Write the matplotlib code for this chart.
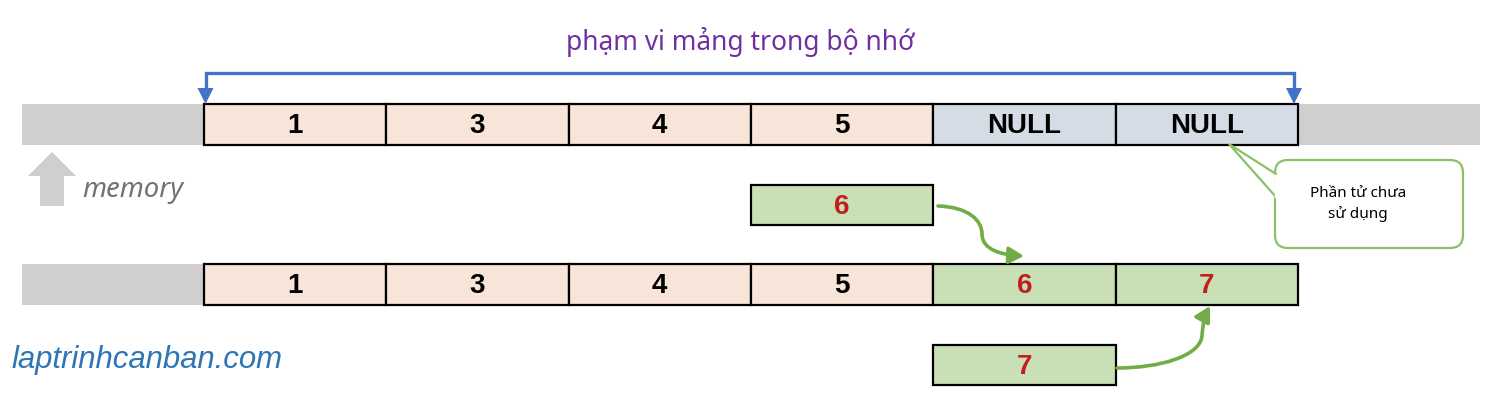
import matplotlib
matplotlib.use("Agg")
import matplotlib.pyplot as plt
from matplotlib.patches import Rectangle, Polygon, FancyBboxPatch, FancyArrowPatch
from matplotlib.path import Path

# ---- data ----
top_values = ["1", "3", "4", "5", "NULL", "NULL"]
top_kinds = ["used", "used", "used", "used", "null", "null"]
bottom_values = ["1", "3", "4", "5", "6", "7"]
bottom_kinds = ["used", "used", "used", "used", "new", "new"]
new_items = ["6", "7"]
title_text = "phạm vi mảng trong bộ nhớ"
callout_text = "Phần tử chưa\nsử dụng"
memory_label = "memory"
watermark = "laptrinhcanban.com"

# ---- style ----
fill = {"used": "#F8E4D8", "null": "#D6DCE5", "new": "#C9E0B6"}
txtcol = {"used": "#000000", "null": "#000000", "new": "#C0201B"}
GRAY = "#D0CECE"
BLUE = "#4472C4"
GREEN = "#70AD47"

fig = plt.figure(figsize=(14.86, 4.12), dpi=100)
ax = fig.add_axes([0, 0, 1, 1])
ax.set_xlim(0, 1486)
ax.set_ylim(412, 0)
ax.axis("off")

x0, cw, ch = 204, 182.3, 41
top_y, bot_y = 104, 264
num_font = dict(family="Liberation Sans", weight="bold", fontsize=20)

def draw_row(y, values, kinds):
    ax.add_patch(Rectangle((22, y), x0 - 22, ch, facecolor=GRAY, edgecolor="none", zorder=1))
    for i, (v, k) in enumerate(zip(values, kinds)):
        x = x0 + i * cw
        ax.add_patch(Rectangle((x, y), cw, ch, facecolor=fill[k], edgecolor="black", lw=1.6, zorder=2))
        ax.text(x + cw / 2, y + ch / 2 + 1.5, v, ha="center", va="center", color=txtcol[k], zorder=3, **num_font)

draw_row(top_y, top_values, top_kinds)
ax.add_patch(Rectangle((x0 + 6 * cw, top_y), 1480 - (x0 + 6 * cw), ch, facecolor=GRAY, edgecolor="none", zorder=1))
draw_row(bot_y, bottom_values, bottom_kinds)

# new items boxes
new_pos = [(x0 + 3 * cw, 185), (x0 + 4 * cw, 345)]
for (x, y), v in zip(new_pos, new_items):
    ax.add_patch(Rectangle((x, y), cw, 40, facecolor=fill["new"], edgecolor="black", lw=1.6, zorder=2))
    ax.text(x + cw / 2, y + 21.5, v, ha="center", va="center", color=txtcol["new"], zorder=3, **num_font)

# blue bracket
xl, xr = 205.5, 1294
ax.plot([xl, xl, xr, xr], [90, 73, 73, 90], color=BLUE, lw=2.4, solid_joinstyle="miter", zorder=4)
for xx in (xl, xr):
    ax.add_patch(Polygon([(xx - 8, 88), (xx + 8, 88), (xx, 104)], closed=True, facecolor=BLUE, edgecolor="none", zorder=4))
ax.text(740, 42, title_text, ha="center", va="center", color="#7030A0", fontsize=19, family="Noto Sans")

# memory block arrow
ax.add_patch(Polygon([(52, 152), (76, 176), (64, 176), (64, 206), (40, 206), (40, 176), (28, 176)],
                     closed=True, facecolor=GRAY, edgecolor="none"))
ax.text(82, 190, memory_label, ha="left", va="center", color="#767171", fontsize=19.8,
        style="italic", family="Noto Sans")

# callout
ax.add_patch(FancyBboxPatch((1275, 160), 188, 88, boxstyle="round,pad=0,rounding_size=13",
                            facecolor="white", edgecolor="#8CC063", lw=1.6, zorder=5))
ax.add_patch(Polygon([(1276, 174), (1229, 144), (1276, 197)], closed=True,
                     facecolor="white", edgecolor="#8CC063", lw=1.6, zorder=6))
ax.plot([1276.2, 1276.2], [175.5, 195.5], color="white", lw=2.5, zorder=7)
ax.text(1358, 204, callout_text, ha="center", va="center", fontsize=11, family="Noto Sans",
        linespacing=1.5, zorder=8)

# green curved arrows
p1 = Path([(938, 206), (968, 207), (982, 220), (982, 234), (982, 250), (1002, 255), (1024, 256)],
          [Path.MOVETO, Path.CURVE4, Path.CURVE4, Path.CURVE4, Path.CURVE4, Path.CURVE4, Path.CURVE4])
p2 = Path([(1117, 368), (1160, 368), (1200, 356), (1202, 336), (1203, 322), (1205, 315), (1210, 306)],
          [Path.MOVETO, Path.CURVE4, Path.CURVE4, Path.CURVE4, Path.CURVE4, Path.CURVE4, Path.CURVE4])
for p in (p1, p2):
    ax.add_patch(FancyArrowPatch(path=p, arrowstyle="-|>,head_length=9,head_width=5",
                                 color=GREEN, lw=2.6, zorder=6))

ax.text(12, 360, watermark, ha="left", va="center", color="#2E75B6", fontsize=22.4,
        style="italic", family="Liberation Sans")

fig.savefig("out.png", dpi=100)
